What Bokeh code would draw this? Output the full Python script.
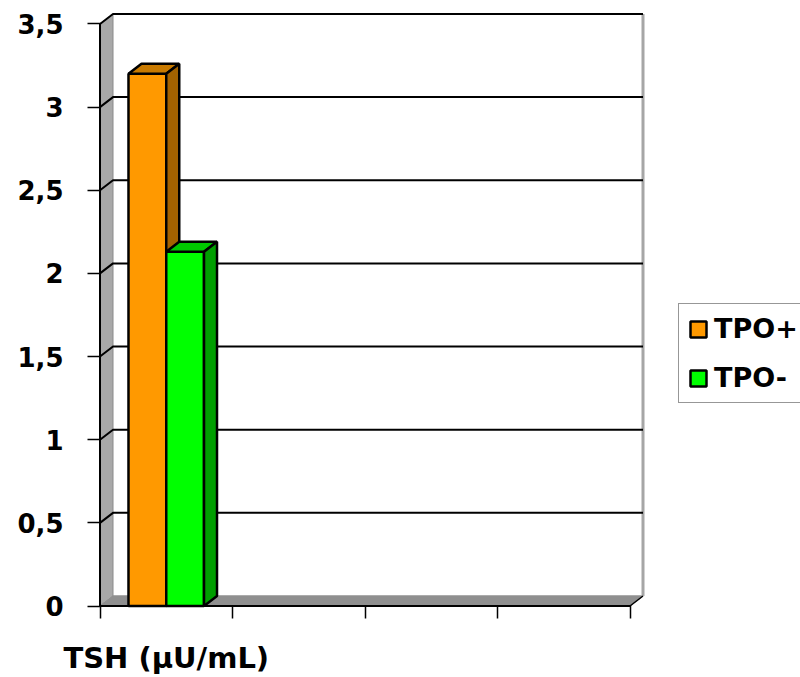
from bokeh.plotting import figure
from bokeh.models import Range1d, FixedTicker, Legend, LegendItem, ColumnDataSource
from bokeh.embed import file_html
from bokeh.resources import INLINE

# ---- data -------------------------------------------------------------
categories = ["TSH (µU/mL)", "", "", ""]
series_names = ["TPO+", "TPO-"]
tpo_pos = [3.2]     # values for the first category
tpo_neg = [2.13]
y_ticks = [0, 0.5, 1, 1.5, 2, 2.5, 3, 3.5]
y_tick_labels = ["0", "0,5", "1", "1,5", "2", "2,5", "3", "3,5"]

# ---- styling ----------------------------------------------------------
FONT = "DejaVu Sans"
PX_X = 132.5            # pixels per category
PX_Y = 166.3            # pixels per value unit
DX, DY = 13 / PX_X, 10 / PX_Y   # depth offset of the 3-D box
YMAX = 3.5
NCAT = len(categories)
BAR_W = 0.285
BAR_LW = 2.5

front_colors = ["#FF9900", "#00FF00"]
top_colors = ["#C97A00", "#00C800"]
side_colors = ["#A36200", "#009E00"]

# the plotting frame reaches the right edge so the legend can sit inside it
p = figure(width=800, height=677, output_backend="svg", toolbar_location=None,
           x_range=Range1d(-2.5 / PX_X, (800 - 99.5) / PX_X),
           y_range=Range1d(-2.5 / PX_Y, (605.5 - 9) / PX_Y),
           min_border_left=97, min_border_right=0,
           min_border_top=9, min_border_bottom=69)
p.outline_line_color = None
p.xgrid.visible = False
p.ygrid.visible = False
p.background_fill_color = "white"
p.border_fill_color = "white"

# back wall
p.patch([DX, NCAT + DX, NCAT + DX, DX], [DY, DY, YMAX + DY, YMAX + DY],
        fill_color="white", line_color=None)
p.line([NCAT + DX, NCAT + DX], [DY, YMAX + DY], line_color="#A6A6A6", line_width=3)
p.line([DX, NCAT + DX], [DY, DY], line_color="#C8C8C8", line_width=2)

# side wall
p.patch([0, DX, DX, 0], [0, DY, YMAX + DY, YMAX],
        fill_color="#A8A8A8", line_color="#8A8A8A", line_width=1)

# floor
p.patch([0, NCAT, NCAT + DX, DX], [0, 0, DY, DY],
        fill_color="#8F8F8F", line_color="#8F8F8F", line_width=1)
p.line([NCAT, NCAT + DX], [0, DY], line_color="black", line_width=1.5)

# gridlines running across the side wall and the back wall
for v in y_ticks[1:]:
    p.line([0, DX, NCAT + DX], [v, v + DY, v + DY], line_color="black", line_width=2)

# axis lines
p.line([0, 0], [0, YMAX], line_color="black", line_width=2)
p.line([0, NCAT], [0, 0], line_color="black", line_width=2)

# 3-D bars
legend_items = []
for k, (name, vals) in enumerate(zip(series_names, [tpo_pos, tpo_neg])):
    lefts = [i + 0.5 - BAR_W + k * BAR_W for i in range(len(vals))]
    rights = [l + BAR_W for l in lefts]
    src = ColumnDataSource(dict(left=lefts, right=rights, top=vals,
                                bottom=[0] * len(vals)))
    front = p.quad(left="left", right="right", top="top", bottom="bottom", source=src,
                   fill_color=front_colors[k], line_color="black", line_width=BAR_LW)
    top_xs = [[l, l + DX, r + DX, r] for l, r in zip(lefts, rights)]
    top_ys = [[v, v + DY, v + DY, v] for v in vals]
    p.patches(top_xs, top_ys, fill_color=top_colors[k], line_color="black", line_width=BAR_LW)
    side_xs = [[r, r, r + DX, r + DX] for r in rights]
    side_ys = [[0, v, v + DY, DY] for v in vals]
    p.patches(side_xs, side_ys, fill_color=side_colors[k], line_color="black", line_width=BAR_LW)
    legend_items.append(LegendItem(label=name, renderers=[front]))

# value axis
yax = p.yaxis[0]
yax.ticker = FixedTicker(ticks=y_ticks)
yax.major_label_overrides = {t: s for t, s in zip(y_ticks, y_tick_labels)}
yax.axis_line_color = None
yax.major_tick_out = 10
yax.major_tick_in = 3
yax.major_tick_line_width = 1.5
yax.minor_tick_line_color = None
yax.major_label_standoff = 24
yax.major_label_text_font = FONT
yax.major_label_text_font_style = "bold"
yax.major_label_text_font_size = "26px"
yax.major_label_text_color = "black"

# category axis: boundary ticks between categories, labels at the centres
cat_centers = [i + 0.5 for i in range(NCAT)]
xax = p.xaxis[0]
xax.ticker = FixedTicker(ticks=cat_centers, minor_ticks=list(range(NCAT + 1)))
xax.major_label_overrides = {c: s for c, s in zip(cat_centers, categories)}
xax.axis_line_color = None
xax.major_tick_out = 0
xax.major_tick_in = 0
xax.minor_tick_out = 10
xax.minor_tick_in = 3
xax.minor_tick_line_color = "black"
xax.minor_tick_line_width = 1.5
xax.major_label_standoff = 22
xax.major_label_text_font = FONT
xax.major_label_text_font_style = "bold"
xax.major_label_text_font_size = "29px"
xax.major_label_text_color = "black"

legend = Legend(items=legend_items, location=(581, 205),
                label_text_font=FONT, label_text_font_style="bold",
                label_text_font_size="27px", label_text_color="black",
                glyph_width=20, glyph_height=20, label_standoff=6,
                padding=9, spacing=18, margin=0,
                border_line_color="#303030", border_line_width=1,
                background_fill_color="white", background_fill_alpha=1)
p.add_layout(legend, "center")

open("out.html", "w").write(file_html(p, INLINE))
